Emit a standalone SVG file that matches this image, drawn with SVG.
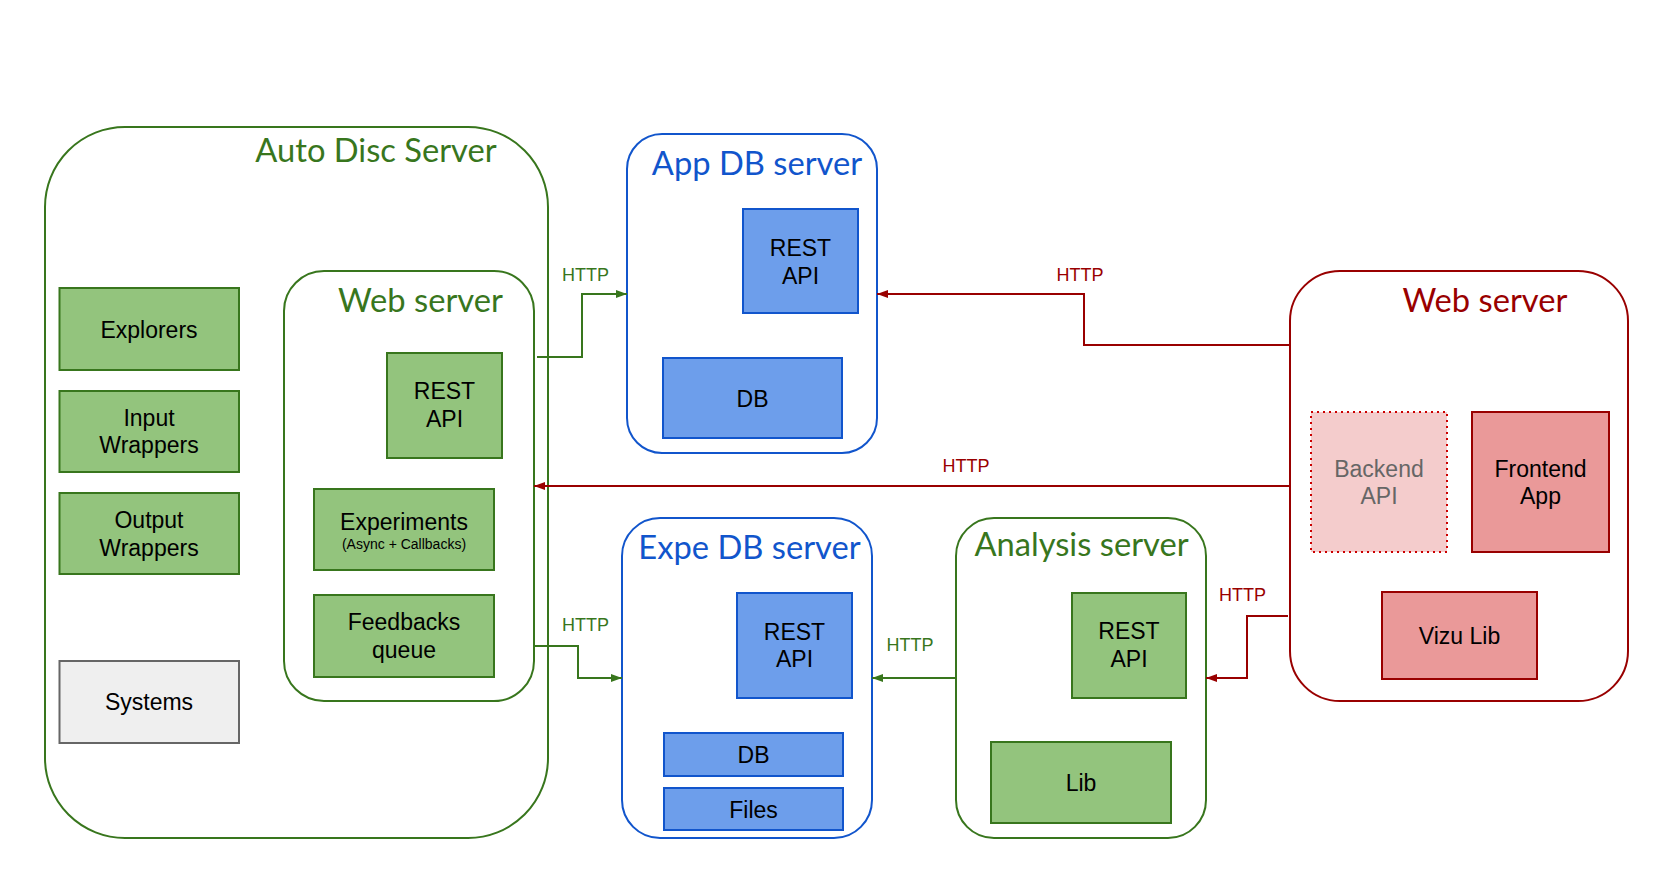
<svg xmlns="http://www.w3.org/2000/svg" width="1672" height="881" viewBox="0 0 1672 881">
<style>
.title{font-family:Lato,"Liberation Sans",sans-serif;font-size:32.7px;text-anchor:middle}
.t{font-family:"Liberation Sans",Arial,sans-serif;font-size:23px;text-anchor:middle;fill:#000}
.small{font-family:"Liberation Sans",Arial,sans-serif;font-size:14px;text-anchor:middle;fill:#000}
.http{font-family:"Liberation Sans",Arial,sans-serif;font-size:18px;text-anchor:middle}
.gc{fill:#fff;stroke:#38761d;stroke-width:2}
.bc{fill:#fff;stroke:#1155cc;stroke-width:2}
.rc{fill:#fff;stroke:#990000;stroke-width:2}
.gb{fill:#93c47d;stroke:#38761d;stroke-width:2}
.bb{fill:#6d9eeb;stroke:#1155cc;stroke-width:2}
.rb{fill:#ea9999;stroke:#990000;stroke-width:2}
.gl{fill:none;stroke:#38761d;stroke-width:2}
.rl{fill:none;stroke:#990000;stroke-width:2}
</style>
<defs>
<marker id="ag" markerUnits="userSpaceOnUse" markerWidth="11" markerHeight="8" refX="11" refY="4" orient="auto"><path d="M0,0 L11,4 L0,8 z" fill="#38761d"/></marker>
<marker id="ar" markerUnits="userSpaceOnUse" markerWidth="11" markerHeight="8" refX="11" refY="4" orient="auto"><path d="M0,0 L11,4 L0,8 z" fill="#990000"/></marker>
</defs>
<rect width="1672" height="881" fill="#fff"/>

<g id="auto-disc-server">
<rect class="gc" x="45" y="127" width="503" height="711" rx="80"/>
<text class="title" x="376" y="162" fill="#38761d">Auto Disc Server</text>
</g>
<g id="explorers"><rect class="gb" x="59.5" y="288" width="179.5" height="82"/><text class="t" x="149" y="338">Explorers</text></g>
<g id="input-wrappers"><rect class="gb" x="59.5" y="391" width="179.5" height="81"/><text class="t" x="149" y="426">Input</text><text class="t" x="149" y="453">Wrappers</text></g>
<g id="output-wrappers"><rect class="gb" x="59.5" y="493" width="179.5" height="81"/><text class="t" x="149" y="528">Output</text><text class="t" x="149" y="556">Wrappers</text></g>
<g id="systems"><rect x="59.5" y="661" width="179.5" height="82" fill="#efefef" stroke="#666" stroke-width="2"/><text class="t" x="149" y="710">Systems</text></g>

<g id="auto-web-server">
<rect class="gc" x="284" y="271" width="250" height="430" rx="40"/>
<text class="title" x="420.5" y="312" fill="#38761d">Web server</text>
</g>
<g id="auto-rest-api"><rect class="gb" x="387" y="353" width="115" height="105"/><text class="t" x="444.5" y="399">REST</text><text class="t" x="444.5" y="427">API</text></g>
<g id="experiments"><rect class="gb" x="314" y="489" width="180" height="81"/><text class="t" x="404" y="530">Experiments</text><text class="small" x="404" y="549">(Async + Callbacks)</text></g>
<g id="feedbacks-queue"><rect class="gb" x="314" y="595" width="180" height="82"/><text class="t" x="404" y="630">Feedbacks</text><text class="t" x="404" y="658">queue</text></g>

<g id="app-db-server">
<rect class="bc" x="627" y="134" width="250" height="319" rx="35"/>
<text class="title" x="757" y="175" fill="#1155cc">App DB server</text>
</g>
<g id="app-rest-api"><rect class="bb" x="743" y="209" width="115" height="104"/><text class="t" x="800.5" y="256">REST</text><text class="t" x="800.5" y="284">API</text></g>
<g id="app-db"><rect class="bb" x="663" y="358" width="179" height="80"/><text class="t" x="752.5" y="407">DB</text></g>

<g id="expe-db-server">
<rect class="bc" x="622" y="518" width="250" height="320" rx="38"/>
<text class="title" x="749.5" y="559" fill="#1155cc">Expe DB server</text>
</g>
<g id="expe-rest-api"><rect class="bb" x="737" y="593" width="115" height="105"/><text class="t" x="794.5" y="640">REST</text><text class="t" x="794.5" y="667">API</text></g>
<g id="expe-db"><rect class="bb" x="664" y="733" width="179" height="43"/><text class="t" x="753.5" y="763">DB</text></g>
<g id="expe-files"><rect class="bb" x="664" y="788" width="179" height="42"/><text class="t" x="753.5" y="818">Files</text></g>

<g id="analysis-server">
<rect class="gc" x="956" y="518" width="250" height="320" rx="38"/>
<text class="title" x="1081.5" y="556" fill="#38761d">Analysis server</text>
</g>
<g id="analysis-rest-api"><rect class="gb" x="1072" y="593" width="114" height="105"/><text class="t" x="1129" y="639">REST</text><text class="t" x="1129" y="667">API</text></g>
<g id="analysis-lib"><rect class="gb" x="991" y="742" width="180" height="81"/><text class="t" x="1081" y="791">Lib</text></g>

<g id="front-web-server">
<rect class="rc" x="1290" y="271" width="338" height="430" rx="50"/>
<text class="title" x="1485" y="312" fill="#990000">Web server</text>
</g>
<g id="backend-api"><rect x="1311" y="412" width="136" height="140" fill="#f4cccc" stroke="#cc0000" stroke-width="2" stroke-dasharray="2,4"/><text class="t" x="1379" y="477" style="fill:#666">Backend</text><text class="t" x="1379" y="504" style="fill:#666">API</text></g>
<g id="frontend-app"><rect class="rb" x="1472" y="412" width="137" height="140"/><text class="t" x="1540.5" y="477">Frontend</text><text class="t" x="1540.5" y="504">App</text></g>
<g id="vizu-lib"><rect class="rb" x="1382" y="592" width="155" height="87"/><text class="t" x="1459.5" y="644">Vizu Lib</text></g>

<g id="connectors">
<polyline class="gl" points="537,357 582,357 582,294 627,294" marker-end="url(#ag)"/>
<text class="http" x="585.5" y="281" fill="#38761d">HTTP</text>
<polyline class="gl" points="534,646 578,646 578,678 622,678" marker-end="url(#ag)"/>
<text class="http" x="585.5" y="631" fill="#38761d">HTTP</text>
<polyline class="gl" points="956,678 872,678" marker-end="url(#ag)"/>
<text class="http" x="910" y="651" fill="#38761d">HTTP</text>
<polyline class="rl" points="1290,345 1084,345 1084,294 877,294" marker-end="url(#ar)"/>
<text class="http" x="1080" y="281" fill="#990000">HTTP</text>
<polyline class="rl" points="1290,486 534,486" marker-end="url(#ar)"/>
<text class="http" x="966" y="472" fill="#990000">HTTP</text>
<polyline class="rl" points="1288,616 1247,616 1247,678 1206,678" marker-end="url(#ar)"/>
<text class="http" x="1242.5" y="601" fill="#990000">HTTP</text>
</g>
</svg>
